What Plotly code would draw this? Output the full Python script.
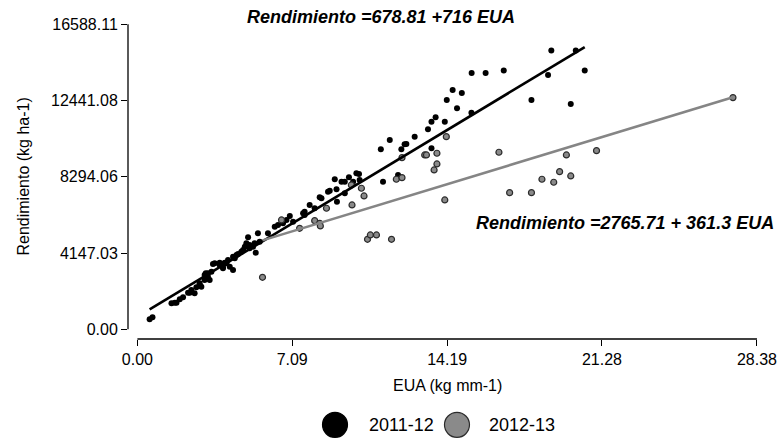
import plotly.graph_objects as go

# Season 2011-12: water-use efficiency (EUA, kg mm-1) vs yield (kg ha-1)
black_x = [0.56, 0.69, 1.56, 1.71, 1.79, 1.94, 2.09, 2.32, 2.40, 2.47, 2.62, 2.70, 2.85, 2.85, 2.93,
           3.08, 3.08, 3.13, 3.23, 3.23, 3.31, 3.39, 3.46, 3.54, 3.77, 3.77, 3.92, 3.92, 4.00,
           4.08, 4.15, 4.23, 4.38, 4.38, 4.46, 4.54, 4.61, 4.76, 4.84, 4.92, 4.99, 5.07, 5.14,
           5.14, 5.30, 5.37, 5.42, 5.52, 5.60, 5.98, 6.29, 6.44, 6.67, 6.83, 6.98, 7.13, 7.59,
           7.66, 7.66, 7.89, 8.12, 8.35, 8.43, 8.73, 8.81, 9.04, 9.12, 9.14, 9.35, 9.50, 9.50,
           9.69, 9.88, 10.03, 10.15, 10.18, 11.15, 11.25, 11.56, 11.94, 12.09, 12.24, 12.32,
           12.70, 13.31, 13.47, 13.47, 13.66, 14.08, 14.17, 14.44, 14.64, 14.86, 15.30, 15.31,
           15.95, 16.78, 18.05, 18.81, 18.96, 19.85, 20.08, 20.49]
black_y = [544, 653, 1414, 1447, 1447, 1632, 1741, 1991, 1991, 2138, 1958, 2285, 2502, 2409, 2317,
           2682, 2953, 3046, 2861, 3045, 2682, 3133, 3551, 3590, 3623, 3497, 3373, 3317, 3623,
           3589, 3770, 3405, 3226, 3948, 3862, 4040, 4096, 4221, 4312, 4493, 4678, 5005, 4406,
           4584, 4493, 4678, 4167, 5222, 4765, 5222, 5581, 5674, 5766, 5946, 6163, 5853, 6310,
           6397, 6218, 6762, 6582, 7181, 7126, 7485, 7540, 8160, 7616, 6941, 8029, 8029, 7398,
           8269, 8029, 8486, 8448, 8122, 9792, 8029, 10298, 8394, 9792, 10064, 10080,
           10477, 10880, 11293, 9846, 11533, 11293, 12474, 13018, 12022, 12855, 11783, 13943,
           13943, 14068, 12474, 13834, 15156, 12256, 15156, 14068]

# Season 2012-13
gray_x = [5.73, 6.60, 7.43, 8.12, 8.35, 8.38, 8.66, 9.80, 9.83, 10.26, 10.38, 10.54, 10.67, 10.95,
          11.64, 11.86, 12.12, 12.12, 13.16, 13.24, 13.59, 13.72, 13.72, 14.08, 14.15, 16.56,
          17.05, 18.05, 18.53, 19.07, 19.34, 19.65, 19.85, 21.03, 27.28]
gray_y = [2829, 5946, 5494, 5908, 5766, 5620, 6582, 7850, 6762, 7670, 7252, 4896, 5130, 5130,
          4896, 8160, 8247, 9335, 9482, 9482, 8666, 9574, 8992, 7034, 10477, 9629,
          7431, 7431, 8160, 7997, 8573, 9482, 8340, 9716, 12599]

# Fitted regressions: intercept, slope
fit_2011 = (678.81, 716.0)
fit_2012 = (2765.71, 361.3)

x_ticks = [0.00, 7.09, 14.19, 21.28, 28.38]
x_labels = ["0.00", "7.09", "14.19", "21.28", "28.38"]
y_ticks = [0.00, 4147.03, 8294.06, 12441.08, 16588.11]
y_labels = ["0.00", "4147.03", "8294.06", "12441.08", "16588.11"]

FONT = "Liberation Sans, Arial, sans-serif"
GRAY_FILL = "#8a8a8a"
GRAY_EDGE = "#2b2b2b"
GRAY_LINE = "#858585"


def fit_line(xs, coef):
    a, b = coef
    lo, hi = min(xs), max(xs)
    return [lo, hi], [a + b * lo, a + b * hi]


fig = go.Figure()
fig.add_trace(go.Scatter(x=black_x, y=black_y, mode="markers", name="2011-12",
                         marker=dict(color="black", size=6, line=dict(width=0))))
fig.add_trace(go.Scatter(x=gray_x, y=gray_y, mode="markers", name="2012-13",
                         marker=dict(color=GRAY_FILL, size=6, line=dict(color=GRAY_EDGE, width=1.2))))
lx, ly = fit_line(black_x, fit_2011)
fig.add_trace(go.Scatter(x=lx, y=ly, mode="lines", showlegend=False,
                         line=dict(color="black", width=2.6)))
gx, gy = fit_line(gray_x, fit_2012)
fig.add_trace(go.Scatter(x=gx, y=gy, mode="lines", showlegend=False,
                         line=dict(color=GRAY_LINE, width=2.6)))

axis_common = dict(showgrid=False, zeroline=False, showline=False, ticks="outside",
                   ticklen=6, tickwidth=1.3, tickcolor="black", ticklabeloverflow="allow",
                   automargin=False,
                   tickfont=dict(family=FONT, size=16, color="black"))

fig.update_layout(
    width=777, height=448,
    margin=dict(l=128, r=15, t=10, b=109),
    paper_bgcolor="white", plot_bgcolor="white",
    showlegend=False,
    font=dict(family=FONT, color="black"),
    xaxis=dict(range=[-0.431, 28.61], tickvals=x_ticks, ticktext=x_labels, **axis_common),
    yaxis=dict(range=[-527, 17364], tickvals=y_ticks, ticktext=y_labels, **axis_common),
)

# detached axis lines spanning only the labelled range
fig.add_shape(type="line", xref="x", yref="y domain", x0=x_ticks[0], x1=x_ticks[-1], y0=0, y1=0,
              line=dict(color="black", width=1.3))
fig.add_shape(type="line", xref="x domain", yref="y", x0=0, x1=0, y0=y_ticks[0], y1=y_ticks[-1],
              line=dict(color="black", width=1.3))

# axis titles
fig.add_annotation(text="EUA (kg mm-1)", xref="paper", yref="paper", x=0.504, y=-0.14,
                   showarrow=False, xanchor="center", yanchor="middle",
                   font=dict(family=FONT, size=16))
fig.add_annotation(text="Rendimiento (kg ha-1)", xref="paper", yref="paper", x=-0.165, y=0.495,
                   showarrow=False, textangle=-90, xanchor="center", yanchor="middle",
                   font=dict(family=FONT, size=16))

# regression equations
fig.add_annotation(text="<b><i>Rendimiento =678.81 +716 EUA</i></b>", xref="paper", yref="paper",
                   x=0.399, y=0.980, showarrow=False, xanchor="center", yanchor="middle",
                   font=dict(family=FONT, size=18))
fig.add_annotation(text="<b><i>Rendimiento =2765.71 + 361.3 EUA</i></b>", xref="paper", yref="paper",
                   x=0.784, y=0.3526, showarrow=False, xanchor="center", yanchor="middle",
                   font=dict(family=FONT, size=18))

# legend drawn below the axis
legend_items = [("2011-12", "black", "black", 0.3265, 0.377),
                ("2012-13", GRAY_FILL, GRAY_EDGE, 0.5189, 0.5662)]
for label, fill, edge, cx, tx in legend_items:
    fig.add_shape(type="circle", xref="paper", yref="paper", xsizemode="pixel", ysizemode="pixel",
                  xanchor=cx, yanchor=-0.261, x0=-12.5, x1=12.5, y0=-12.5, y1=12.5,
                  fillcolor=fill, line=dict(color=edge, width=1.2))
    fig.add_annotation(text=label, xref="paper", yref="paper", x=tx, y=-0.261,
                       showarrow=False, xanchor="left", yanchor="middle",
                       font=dict(family=FONT, size=18))

fig.write_html("out.html")
